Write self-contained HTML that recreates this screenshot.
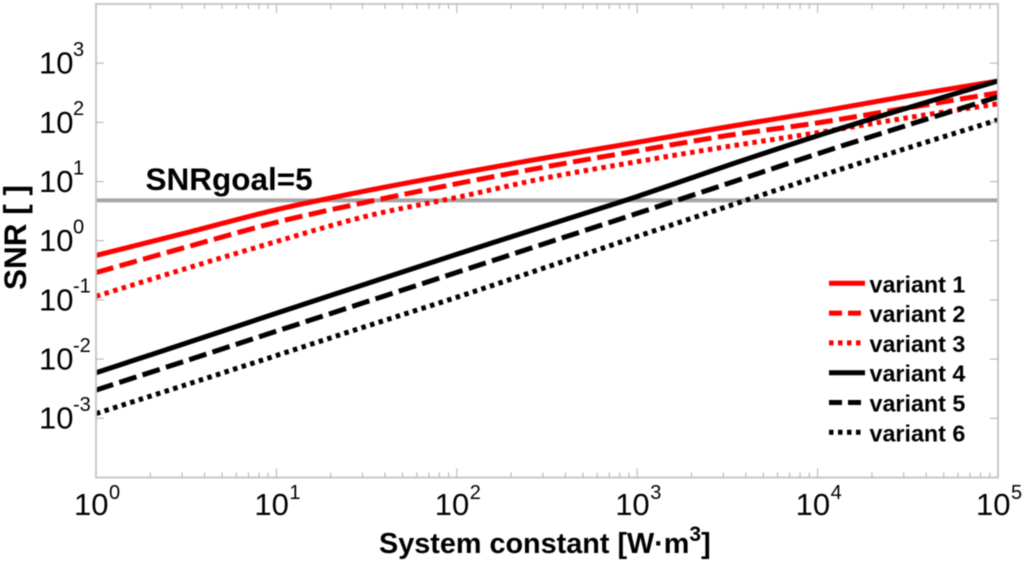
<!DOCTYPE html>
<html lang="en">
<head>
<meta charset="utf-8">
<title>SNR vs system constant</title>
<style>
html,body{margin:0;padding:0;background:#fff;width:1024px;height:564px;overflow:hidden}
svg{display:block;font-family:"Liberation Sans",Arial,sans-serif;filter:blur(0.4px)}
</style>
</head>
<body>
<svg id="chart" width="1024" height="564" viewBox="0 0 1024 564" xmlns="http://www.w3.org/2000/svg">
  <rect x="0" y="0" width="1024" height="564" fill="#ffffff"/>
  <g id="series-layer"></g>
  <g id="axes-layer"></g>
  <text x="145.5" y="190" font-size="31.5" font-weight="700" fill="#000">SNRgoal=5</text>
  <text x="379" y="553" font-size="28.8" font-weight="700" fill="#000">System constant [W·m<tspan font-size="21" dy="-12">3</tspan><tspan dy="12">]</tspan></text>
  <text transform="translate(26,290) rotate(-90)" font-size="31.5" font-weight="700" fill="#000">SNR [ ]</text>
  <g id="legend-layer"></g>
</svg>
<script>
const xSamples = [1, 3.16, 10, 31.6, 100, 316, 1000, 3160, 10000, 31600, 100000];
const seriesNames = ['variant 1', 'variant 2', 'variant 3', 'variant 4', 'variant 5', 'variant 6'];
const variant1 = [0.565, 1.36, 3.35, 7.0, 13.6, 25.4, 46, 84, 150, 280, 500];
const variant2 = [0.29, 0.78, 2.05, 4.5, 9.2, 17.9, 33, 60, 98, 176, 316];
const variant3 = [0.115, 0.34, 0.97, 2.6, 5.4, 11.6, 21.7, 39, 67, 120, 206];
const variant4 = [0.0059, 0.0186, 0.0596, 0.188, 0.59, 1.82, 5.6, 18.6, 59.5, 176, 500];
const variant5 = [0.003, 0.0094, 0.0296, 0.093, 0.292, 0.92, 2.9, 9.2, 29.5, 90, 270];
const variant6 = [0.0012, 0.0037, 0.0115, 0.036, 0.111, 0.36, 1.18, 3.8, 12.1, 37, 110];
const seriesValues = [variant1, variant2, variant3, variant4, variant5, variant6];
const seriesColors = ['#ff0000', '#ff0000', '#ff0000', '#000000', '#000000', '#000000'];
const seriesStyles = ['solid', 'dashed', 'dotted', 'solid', 'dashed', 'dotted'];
const goalValue = 4.8;
const xTickExponents = [0, 1, 2, 3, 4, 5];
const yTickExponents = [-3, -2, -1, 0, 1, 2, 3];
const minorMultipliers = [2, 3, 4, 5, 6, 7, 8, 9];

const NS = 'http://www.w3.org/2000/svg';
const plot = { left: 96, right: 998, top: 4, bottom: 477.5 };
const xDomain = [0, 5];
const yDomain = [-4, 4];
function xScale(v) {
  return plot.left + (Math.log10(v) - xDomain[0]) / (xDomain[1] - xDomain[0]) * (plot.right - plot.left);
}
function yScale(v) {
  return plot.bottom - (Math.log10(v) - yDomain[0]) / (yDomain[1] - yDomain[0]) * (plot.bottom - plot.top);
}
function make(tag, attrs, parent) {
  const el = document.createElementNS(NS, tag);
  for (const k in attrs) el.setAttribute(k, attrs[k]);
  parent.appendChild(el);
  return el;
}
function smoothPath(pts) {
  let d = 'M' + pts[0][0].toFixed(2) + ' ' + pts[0][1].toFixed(2);
  for (let i = 0; i < pts.length - 1; i++) {
    const p0 = pts[Math.max(i - 1, 0)];
    const p1 = pts[i];
    const p2 = pts[i + 1];
    const p3 = pts[Math.min(i + 2, pts.length - 1)];
    const c1x = p1[0] + (p2[0] - p0[0]) / 6;
    const c1y = p1[1] + (p2[1] - p0[1]) / 6;
    const c2x = p2[0] - (p3[0] - p1[0]) / 6;
    const c2y = p2[1] - (p3[1] - p1[1]) / 6;
    d += ' C' + c1x.toFixed(2) + ' ' + c1y.toFixed(2) + ' ' + c2x.toFixed(2) + ' ' + c2y.toFixed(2) + ' ' + p2[0].toFixed(2) + ' ' + p2[1].toFixed(2);
  }
  return d;
}
const dashFor = { solid: 'none', dashed: '18 6.5', dotted: '4.5 4.5' };
const legendDash = { solid: 'none', dashed: '13 6', dotted: '4.5 4.5' };
const legendEnd = { solid: 865, dashed: 861, dotted: 861 };

const seriesLayer = document.getElementById('series-layer');
const axesLayer = document.getElementById('axes-layer');
const legendLayer = document.getElementById('legend-layer');

const goalLine = make('line', { x1: plot.left, x2: plot.right, y1: yScale(goalValue), y2: yScale(goalValue), stroke: '#a6a6a6', 'stroke-width': 4 }, seriesLayer);



seriesValues.forEach(function (vals, i) {
  const pts = vals.map(function (v, j) {
    return [xScale(xSamples[j]), yScale(v)];
  });
  const p = make('path', { d: smoothPath(pts), fill: 'none', stroke: seriesColors[i], 'stroke-width': 5, 'stroke-dasharray': dashFor[seriesStyles[i]], 'stroke-linejoin': 'round' }, seriesLayer);
  
  
});

const frame = make('rect', { x: plot.left, y: plot.top, width: plot.right - plot.left, height: plot.bottom - plot.top, fill: 'none', stroke: '#c8c8c8', 'stroke-width': 2 }, axesLayer);



function tick(x1, y1, x2, y2, name) {
  const t = make('line', { x1: x1, y1: y1, x2: x2, y2: y2, stroke: '#b0b0b0', 'stroke-width': 1 }, axesLayer);
  
  
}

xTickExponents.forEach(function (e) {
  const v = Math.pow(10, e);
  const x = xScale(v);
  if (e > 0 && e < 5) {
    tick(x, plot.bottom, x, plot.bottom - 9, 'x-major-tick');
    tick(x, plot.top, x, plot.top + 9, 'x-major-tick-top');
  }
  if (e < 5) {
    minorMultipliers.forEach(function (m) {
      const mx = xScale(v * m);
      tick(mx, plot.bottom, mx, plot.bottom - 5, 'x-minor-tick');
      tick(mx, plot.top, mx, plot.top + 5, 'x-minor-tick-top');
    });
  }
  const lab = make('text', { x: x - 22, y: 515, 'font-size': 31, fill: '#000' }, axesLayer);
  
  
  lab.textContent = '10';
  const sup = make('text', { x: x + 13, y: 499, 'font-size': 20, fill: '#000' }, axesLayer);
  
  
  sup.textContent = String(e);
});

yTickExponents.forEach(function (e) {
  const y = yScale(Math.pow(10, e));
  tick(plot.left, y, plot.left + 8, y, 'y-major-tick');
  tick(plot.right, y, plot.right - 8, y, 'y-major-tick-right');
  const lab = make('text', { x: 39, y: y + 10.4, 'font-size': 31, fill: '#000' }, axesLayer);
  
  
  lab.textContent = '10';
  const sup = make('text', { x: 73, y: y - 7.3, 'font-size': 20, fill: '#000' }, axesLayer);
  
  
  sup.textContent = String(e);
});

seriesNames.forEach(function (name, i) {
  const rowY = 283.3 + i * 29.8;
  const key = make('line', { x1: 829, x2: legendEnd[seriesStyles[i]], y1: rowY, y2: rowY, stroke: seriesColors[i], 'stroke-width': 5, 'stroke-dasharray': legendDash[seriesStyles[i]] }, legendLayer);
  
  
  const label = make('text', { x: 869.5, y: rowY + 9, 'font-size': 23.3, 'font-weight': 700, fill: '#000' }, legendLayer);
  
  
  label.textContent = name;
});
</script>
</body>
</html>
